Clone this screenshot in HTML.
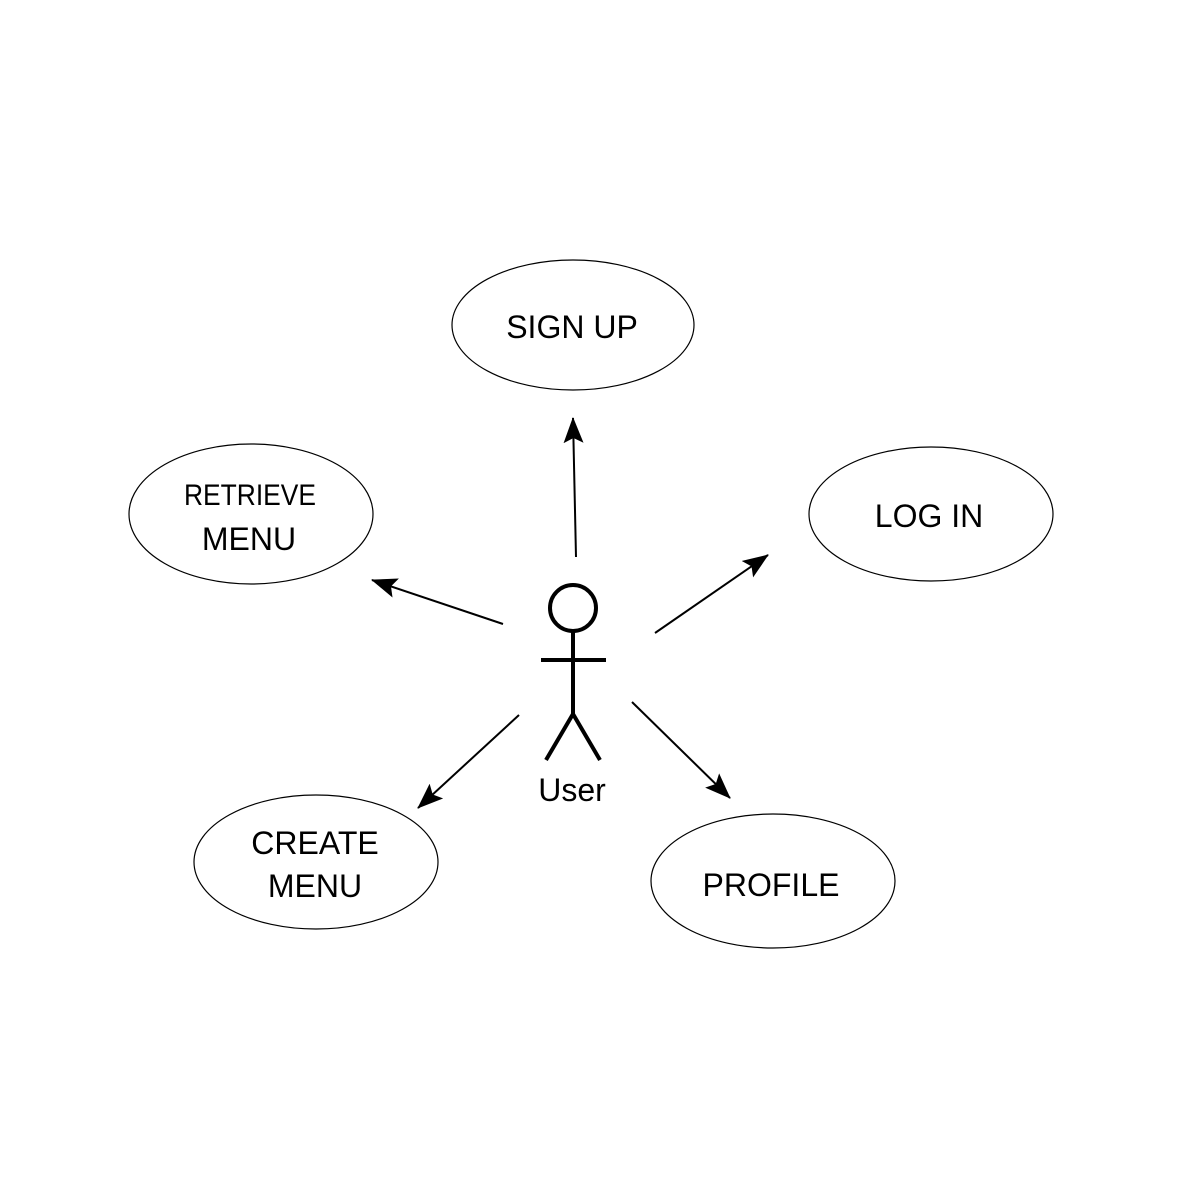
<!DOCTYPE html>
<html><head><style>html,body{margin:0;padding:0;background:#fff}</style></head><body>
<svg width="1182" height="1182" viewBox="0 0 1182 1182" xmlns="http://www.w3.org/2000/svg">
<defs><marker id="a" markerWidth="10" markerHeight="8" refX="9" refY="4" orient="auto" markerUnits="userSpaceOnUse" viewBox="0 0 10 8"><path d="M0,0 L10,4 L0,8 z" fill="#000"/></marker>
<marker id="b" markerWidth="26" markerHeight="20" refX="25" refY="10" orient="auto" markerUnits="userSpaceOnUse"><path d="M0,0 L26,10 L0,20 L5,10 z" fill="#000"/></marker></defs>
<g fill="none" stroke="#000" stroke-width="1.2">
<ellipse cx="573" cy="325" rx="121" ry="65"/>
<ellipse cx="251" cy="514" rx="122" ry="70"/>
<ellipse cx="931" cy="514" rx="122" ry="67"/>
<ellipse cx="316" cy="862" rx="122" ry="67"/>
<ellipse cx="773" cy="881" rx="122" ry="67"/>
</g>
<g font-family="Liberation Sans, sans-serif" font-size="32" text-anchor="middle" fill="#000">
<text x="572" y="338">SIGN UP</text>
<text x="250" y="505" font-size="30" transform="translate(250 0) scale(0.88 1) translate(-250 0)">RETRIEVE</text>
<text x="249" y="550">MENU</text>
<text x="929" y="527">LOG IN</text>
<text x="315" y="854">CREATE</text>
<text x="315" y="897">MENU</text>
<text x="771" y="896">PROFILE</text>
<text x="572" y="801">User</text>
</g>
<g stroke="#000" stroke-width="2" fill="none">
<line x1="576" y1="557" x2="573" y2="418" marker-end="url(#b)"/>
<line x1="503" y1="624" x2="372" y2="580" marker-end="url(#b)"/>
<line x1="655" y1="633" x2="768" y2="555" marker-end="url(#b)"/>
<line x1="519" y1="715" x2="418" y2="808" marker-end="url(#b)"/>
<line x1="632" y1="702" x2="730" y2="798" marker-end="url(#b)"/>
</g>
<g stroke="#000" stroke-width="4" fill="none">
<circle cx="573" cy="608" r="23"/>
<line x1="573" y1="631" x2="573" y2="714"/>
<line x1="541" y1="660" x2="606" y2="660"/>
<path d="M546,760 L573,714 L600,760"/>
</g>
</svg>
</body></html>
